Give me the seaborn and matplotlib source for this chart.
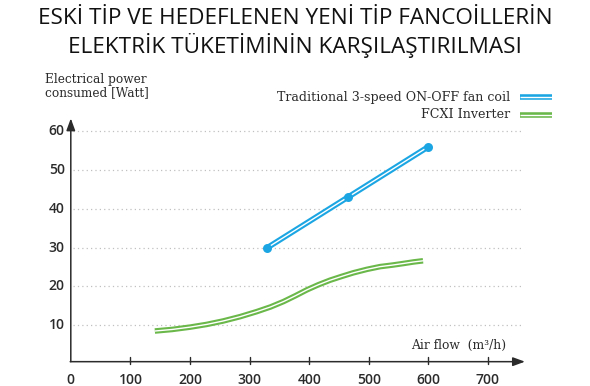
import numpy as np
import pandas as pd
import seaborn as sns
from matplotlib import pyplot as plt
from matplotlib.lines import Line2D

# data
trad_flow = [330, 465, 600]
trad_power = [30, 43, 56]

inv_flow = [141, 170, 200, 228, 256, 284, 312, 335, 357, 377, 396, 415, 435, 455,
            474, 497, 519, 540, 558, 575, 591]
inv_power = [8.5, 8.9, 9.5, 10.2, 11.1, 12.2, 13.5, 14.7, 16.1, 17.6, 19.1, 20.4,
             21.6, 22.6, 23.5, 24.4, 25.1, 25.5, 25.9, 26.3, 26.6]

x_ticks = [0, 100, 200, 300, 400, 500, 600, 700]
y_ticks = [10, 20, 30, 40, 50, 60]

title = "ESKİ TİP VE HEDEFLENEN YENİ TİP FANCOİLLERİN\nELEKTRİK TÜKETİMİNİN KARŞILAŞTIRILMASI"
legend_labels = ["Traditional 3-speed ON-OFF fan coil", "FCXI Inverter"]

BLUE = "#1ba6e3"
GREEN = "#6bb84a"
INK = "#2b2b2b"


def double_line(ax, df, color, **kw):
    # thick coloured line with a thin white core -> double-stroke look
    sns.lineplot(data=df, x="x", y="y", ax=ax, color=color, lw=4.0, sort=False,
                 solid_capstyle="butt", **kw)
    sns.lineplot(data=df, x="x", y="y", ax=ax, color="white", lw=1.0, sort=False,
                 solid_capstyle="butt")


def main():
    sns.set_theme(style="white")
    plt.rcParams["font.family"] = ["Open Sans", "DejaVu Sans"]

    fig = plt.figure(figsize=(5.9, 3.86), dpi=100)
    ax = fig.add_axes([70.8 / 590, 1 - 364 / 386, 760 * 0.596 / 590, 63.5 * 3.88 / 386])
    ax.set_xlim(0, 760)
    ax.set_ylim(0, 63.5)
    for s in ax.spines.values():
        s.set_visible(False)

    # dotted gridlines
    ax.hlines(y_ticks, 3, 755, colors="#c0c0c0", linestyles=(0, (1, 2.5)), lw=0.9)

    # axes with arrows
    arrow = dict(arrowstyle="-|>,head_length=0.6,head_width=0.22", color=INK, lw=1.1,
                 shrinkA=0, shrinkB=0)
    ax.annotate("", xy=(762, 0.6), xytext=(-1, 0.6), arrowprops=arrow,
                annotation_clip=False)
    ax.annotate("", xy=(0, 63.3), xytext=(0, 0.6), arrowprops=arrow,
                annotation_clip=False)
    for t in x_ticks[1:]:
        ax.plot([t, t], [0.0, 1.9], color=INK, lw=1.0, clip_on=False)

    ax.set_xticks([])
    ax.set_yticks([])
    for t in x_ticks:
        ax.text(t, -2.4, str(t), ha="center", va="top", fontsize=10, color=INK,
                fontweight="semibold")
    for t in y_ticks:
        ax.text(-10, t, str(t), ha="right", va="center", fontsize=10, color=INK,
                fontweight="semibold")

    # series
    double_line(ax, pd.DataFrame({"x": inv_flow, "y": inv_power}), GREEN)
    double_line(ax, pd.DataFrame({"x": trad_flow, "y": trad_power}), BLUE)
    ax.scatter(trad_flow, trad_power, s=42, color=BLUE, zorder=5, linewidths=0)

    ax.set_xlabel("")
    ax.set_ylabel("")

    serif = ["DejaVu Serif"]
    ax.text(650, 4.9, "Air flow  (m³/h)", ha="center", va="center", fontsize=8.8,
            family=serif, color=INK)
    fig.text(45 / 590, 1 - 86 / 386, "Electrical power\nconsumed [Watt]", ha="left",
             va="center", fontsize=8.7, family=serif, color=INK, linespacing=1.0)

    # legend drawn by hand
    for i, (lab, col) in enumerate(zip(legend_labels, [BLUE, GREEN])):
        yy = 1 - (97 + 18 * i) / 386
        fig.text(510 / 590, yy, lab, ha="right", va="center", fontsize=9.1,
                 family=serif, color=INK)
        fig.add_artist(Line2D([520 / 590, 552 / 590], [yy, yy], color=col, lw=4.0,
                              transform=fig.transFigure, solid_capstyle="butt"))
        fig.add_artist(Line2D([520 / 590, 552 / 590], [yy, yy], color="white", lw=1.0,
                              transform=fig.transFigure, solid_capstyle="butt"))

    fig.text(0.5, 1 - 33 / 386, title, ha="center", va="center", fontsize=16.2,
             color="#111111", linespacing=1.25)

    fig.savefig("out.png", dpi=100, facecolor="white")


if __name__ == "__main__":
    main()
